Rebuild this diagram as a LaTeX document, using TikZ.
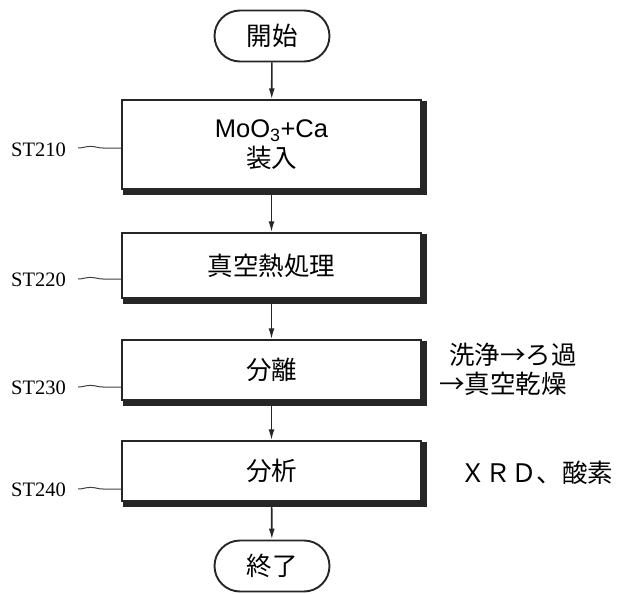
\documentclass[tikz,border=0pt]{standalone}
\usepackage{fontspec}
\usetikzlibrary{arrows.meta,shapes.misc,decorations.pathmorphing}
\newfontfamily\cjk{Noto Sans CJK JP}
\newfontfamily\lsans{Liberation Sans}
\newfontfamily\lserif{Liberation Serif}
\begin{document}
\begin{tikzpicture}[x=1pt,y=-1pt,
  procbox/.style={draw=black!85, line width=1.4pt, fill=white, rectangle,
    minimum width=299pt, inner sep=0pt, align=center,
    font=\cjk\fontsize{25.5}{30}\selectfont},
  shade/.style={fill=black!85},
  term/.style={draw=black!85, line width=1.9pt, fill=white, rounded rectangle,
    minimum width=115pt, minimum height=51pt, inner sep=0pt,
    font=\cjk\fontsize{25.5}{30}\selectfont},
  steplabel/.style={font=\lserif\fontsize{20.5}{24}\selectfont, inner sep=0pt},
  note/.style={font=\cjk\fontsize{25.5}{30}\selectfont, inner sep=0pt, anchor=west},
  flow/.style={line width=1.6pt, draw=black!85, -{Latex[length=11pt,width=6pt]}},
  lead/.style={line width=1pt, draw=black!75, decorate,
    decoration={snake, amplitude=1.6pt, segment length=40pt}}]
\useasboundingbox (0,0) rectangle (619,594);

\node[term] (start) at (272,36) {開始};
\node[procbox, minimum height=89pt] (b1) at (271.5,144.5)
  {{\lsans MoO\textsubscript{3}+Ca}\\装入};
\node[procbox, minimum height=65pt] (b2) at (271.5,265.5) {真空熱処理};
\node[procbox, minimum height=60pt] (b3) at (271.5,370) {分離};
\node[procbox, minimum height=60pt] (b4) at (271.5,471) {分析};
\node[term] (end) at (272,566) {終了};

\foreach \b in {b1,b2,b3,b4} {
  \fill[shade] ([yshift=-2pt]\b.north east) rectangle ([xshift=5pt,yshift=-5pt]\b.south east);
  \fill[shade] ([xshift=2pt]\b.south west) rectangle ([xshift=5pt,yshift=-5pt]\b.south east);
}

\draw[flow] (start) -- (b1);
\draw[flow] (b1) -- (b2);
\draw[flow] (b2) -- (b3);
\draw[flow] (b3) -- (b4);
\draw[flow] (b4) -- (end);

\node[steplabel] (l1) at (38.5,150) {ST210};
\node[steplabel] (l2) at (38.5,280) {ST220};
\node[steplabel] (l3) at (38.5,388) {ST230};
\node[steplabel] (l4) at (38.5,490) {ST240};

\draw[lead] ([xshift=12pt,yshift=2pt]l1.east) -- ([yshift=2pt]b1.west |- l1.east);
\draw[lead] ([xshift=12pt,yshift=1pt]l2.east) -- ([yshift=1pt]b2.west |- l2.east);
\draw[lead] ([xshift=12pt,yshift=1pt]l3.east) -- ([yshift=1pt]b3.west |- l3.east);
\draw[lead] ([xshift=12pt,yshift=1pt]l4.east) -- ([yshift=1pt]b4.west |- l4.east);

\node[note] (n1) at (449,355) {洗浄→ろ過};
\node[note] (n2) at (439,384) {→真空乾燥};
\node[note] (n3) at (460,473) {ＸＲＤ、酸素};
\end{tikzpicture}
\end{document}
